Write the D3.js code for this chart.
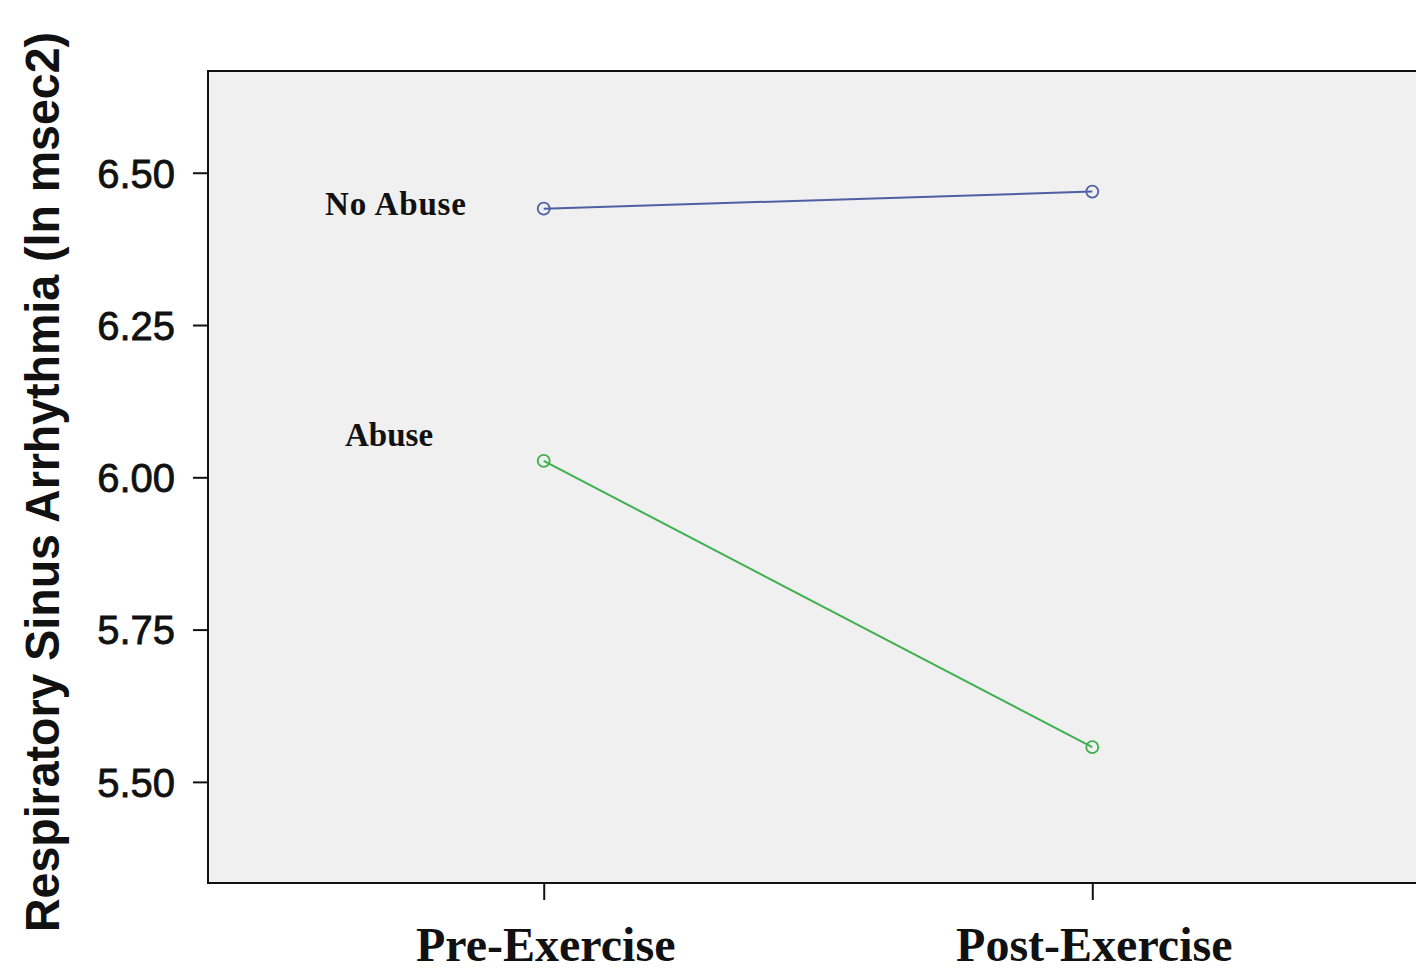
<!DOCTYPE html>
<html>
<head>
<meta charset="utf-8">
<script src="https://cdn.jsdelivr.net/npm/d3@7"></script>
<style>
  body { margin: 0; background: #fff; }
  svg { display: block; }
</style>
</head>
<body>
<div id="chart"></div>
<script>
// data
const phases = ["Pre-Exercise", "Post-Exercise"];
const noAbuse = [6.441, 6.469];
const abuse = [6.027, 5.557];
const groupNames = ["No Abuse", "Abuse"];
const yTicks = [5.50, 5.75, 6.00, 6.25, 6.50];

const svgWidth = 1416, svgHeight = 978;
let margin = {top: 71, right: -12, bottom: 95, left: 208},
    width = svgWidth - margin.left - margin.right,
    height = svgHeight - margin.top - margin.bottom;

let svg = d3.select("#chart").append("svg")
    .attr("width", svgWidth)
    .attr("height", svgHeight);

let x = d3.scalePoint().domain(phases).range([0, width]).padding(0.612),
    y = d3.scaleLinear().domain([5.334, 6.667]).range([height, 0]);

let g = svg.append("g")
    .attr("transform", "translate(" + margin.left + "," + margin.top + ")");

// plot background + frame
g.append("rect")
    .attr("x", 0).attr("y", 0)
    .attr("width", width).attr("height", height)
    .attr("fill", "#f0f0f0")
    .attr("stroke", "#111")
    .attr("stroke-width", 2);

// y axis
let yAxis = g.append("g")
    .attr("class", "axis axis--y")
    .call(d3.axisLeft(y).tickValues(yTicks).tickSize(15).tickPadding(18).tickFormat(d3.format(".2f")));
yAxis.select(".domain").remove();
yAxis.selectAll("line").attr("stroke", "#111").attr("stroke-width", 2);
yAxis.selectAll("text")
    .attr("font-family", "'Liberation Sans', Arial, sans-serif")
    .attr("font-size", 40)
    .attr("fill", "#111")
    .attr("stroke", "#111")
    .attr("stroke-width", 0.8)
    .attr("dy", "0.36em");

// x axis
let xAxis = g.append("g")
    .attr("class", "axis axis--x")
    .attr("transform", "translate(0," + height + ")")
    .call(d3.axisBottom(x).tickSize(17).tickPadding(0).tickFormat(""));
xAxis.select(".domain").remove();
xAxis.selectAll("line").attr("stroke", "#111").attr("stroke-width", 2);

g.selectAll(".xlabel")
    .data(phases)
    .enter().append("text")
    .attr("class", "xlabel")
    .attr("x", d => x(d) + 2)
    .attr("y", height + 78)
    .attr("text-anchor", "middle")
    .attr("font-family", "'Liberation Serif', 'Times New Roman', serif")
    .attr("font-weight", "bold")
    .attr("font-size", 48)
    .attr("fill", "#111")
    .text(d => d);

// y axis title
svg.append("text")
    .attr("transform", "translate(59,482) rotate(-90)")
    .attr("text-anchor", "middle")
    .attr("font-family", "'Liberation Sans', Arial, sans-serif")
    .attr("font-weight", "bold")
    .attr("font-size", 48)
    .attr("textLength", 900)
    .attr("lengthAdjust", "spacingAndGlyphs")
    .attr("fill", "#111")
    .text("Respiratory Sinus Arrhythmia (ln msec2)");

// series
const series = [
  {name: groupNames[0], values: noAbuse, color: "#4f5fa3"},
  {name: groupNames[1], values: abuse, color: "#3fb04f"}
];

let line = d3.line()
    .x((d, i) => x(phases[i]))
    .y(d => y(d));

series.forEach(s => {
  g.append("path")
      .datum(s.values)
      .attr("fill", "none")
      .attr("stroke", s.color)
      .attr("stroke-width", 2)
      .attr("d", line);
  g.selectAll(null)
      .data(s.values)
      .enter().append("circle")
      .attr("cx", (d, i) => x(phases[i]))
      .attr("cy", d => y(d))
      .attr("r", 6)
      .attr("fill", "none")
      .attr("stroke", s.color)
      .attr("stroke-width", 1.8);
});

// group labels
g.append("text")
    .attr("x", 325 - margin.left)
    .attr("y", 215 - margin.top)
    .attr("font-family", "'Liberation Serif', 'Times New Roman', serif")
    .attr("font-weight", "bold")
    .attr("font-size", 33)
    .attr("textLength", 141)
    .attr("fill", "#111")
    .text(groupNames[0]);
g.append("text")
    .attr("x", 345 - margin.left)
    .attr("y", 446 - margin.top)
    .attr("font-family", "'Liberation Serif', 'Times New Roman', serif")
    .attr("font-weight", "bold")
    .attr("font-size", 33)
    .attr("fill", "#111")
    .text(groupNames[1]);
</script>
</body>
</html>
